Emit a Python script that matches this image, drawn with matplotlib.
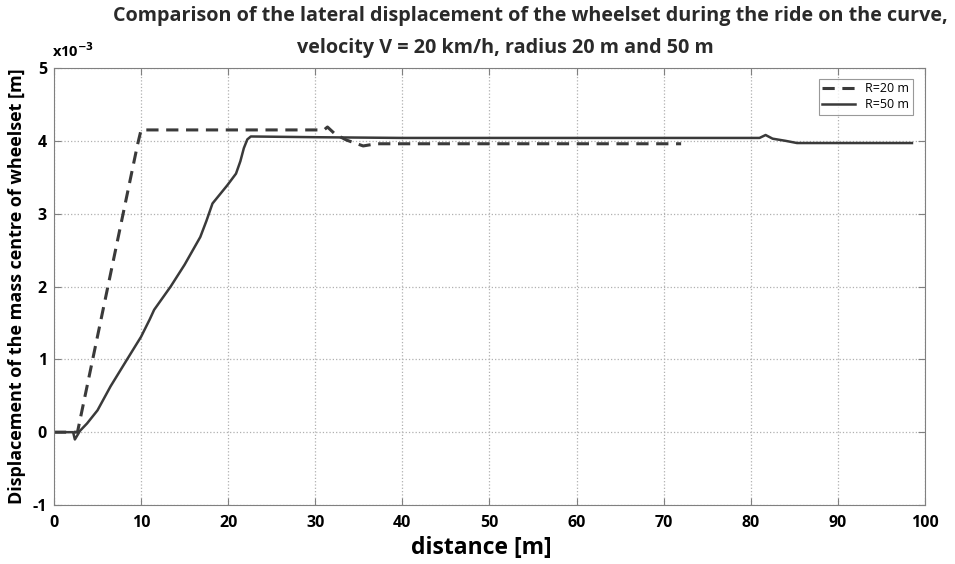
import numpy as np
import matplotlib.pyplot as plt

# values (y in units of 1e-3 m)
r20_x = [0, 2.3, 2.7, 9.6, 10.0, 31.0, 31.4, 32.3, 33.6, 35.5, 37.0, 72.0]
r20_y = [0, 0, 0.0, 3.95, 4.15, 4.15, 4.19, 4.09, 4.01, 3.93, 3.96, 3.96]

r50_x = [0, 2.2, 2.4, 3.0, 3.8, 5.0, 6.5, 8.4, 10.0, 11.0, 11.5, 13.4, 15.0,
         16.8, 17.5, 18.2, 19.9, 20.9, 21.4, 21.8, 22.2, 22.6, 30.0, 40.0,
         81.0, 81.7, 82.5, 84.0, 85.3, 90.0, 98.5]
r50_y = [0, 0, -0.1, 0.02, 0.12, 0.30, 0.63, 1.0, 1.31, 1.55, 1.68, 2.0, 2.3,
         2.68, 2.9, 3.14, 3.39, 3.55, 3.72, 3.9, 4.02, 4.06, 4.05, 4.04,
         4.04, 4.08, 4.03, 4.00, 3.97, 3.97, 3.97]

xticks = list(range(0, 101, 10))
yticks = [-1, 0, 1, 2, 3, 4, 5]

title1 = "Comparison of the lateral displacement of the wheelset during the ride on the curve,"
title2 = "velocity V = 20 km/h, radius 20 m and 50 m"

plt.rcParams["font.family"] = ["Open Sans", "DejaVu Sans"]

fig = plt.figure(figsize=(9.55, 5.64), dpi=100)
ax = fig.add_axes([0.0565, 0.1046, 0.9121, 0.7748])

line_c = "#3a3a3a"
ax.plot(r20_x, r20_y, "--", color=line_c, lw=2.2, dashes=(4, 2.5), label="R=20 m")
ax.plot(r50_x, r50_y, "-", color=line_c, lw=1.8, label="R=50 m")

ax.set_xlim(0, 100)
ax.set_ylim(-1, 5)
ax.set_xticks(xticks)
ax.set_yticks(yticks)
ax.set_xticklabels([str(t) for t in xticks], fontweight="bold", fontsize=11.5)
ax.set_yticklabels([str(t) for t in yticks], fontweight="bold", fontsize=11.5)
ax.tick_params(direction="in", top=True, right=True, length=5, color="#808080")
ax.tick_params(axis="x", pad=7)
ax.tick_params(axis="y", pad=5)
ax.grid(True, linestyle=":", color="#b0b0b0", lw=0.9)
for s in ax.spines.values():
    s.set_color("#808080")

# exponent marker above the y axis
ax.text(-0.002, 1.018, r"x10$^{\mathbf{-3}}$", transform=ax.transAxes,
        fontsize=10.5, fontweight="bold", ha="left", va="bottom")

ax.set_xlabel("distance [m]", fontsize=16.5, fontweight="bold")
ax.xaxis.set_label_coords(0.491, -0.072)
ax.set_ylabel("Displacement of the mass centre of wheelset [m]", fontsize=13,
              fontweight="bold", labelpad=5)

leg = ax.legend(loc="upper right", fontsize=9, frameon=True, fancybox=False,
                handlelength=2.6, borderpad=0.3, labelspacing=0.2,
                bbox_to_anchor=(0.993, 0.99))
leg.get_frame().set_edgecolor("#808080")
leg.get_frame().set_linewidth(0.8)

fig.text(0.555, 1 - 16 / 564, title1, ha="center", va="center", fontsize=14.2,
         fontweight="bold", color="#2a2a2a")
fig.text(0.529, 1 - 48 / 564, title2, ha="center", va="center", fontsize=14.2,
         fontweight="bold", color="#2a2a2a")

fig.savefig("out.png", dpi=100)
